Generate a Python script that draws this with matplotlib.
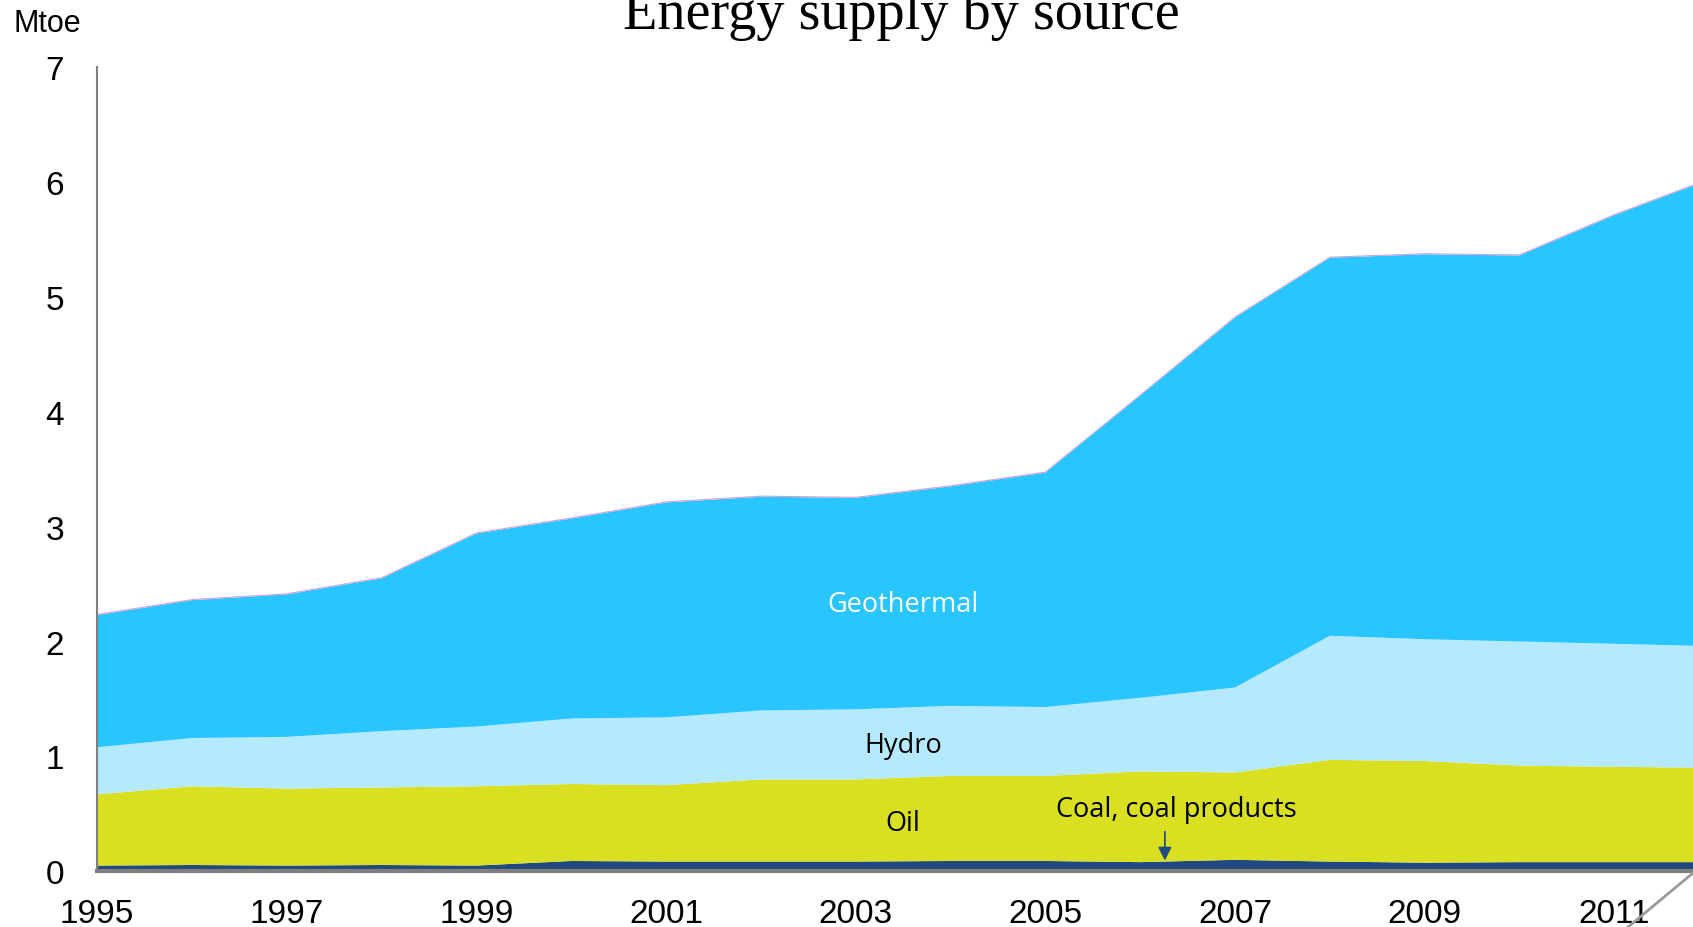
import matplotlib.pyplot as plt
import matplotlib.lines as mlines

years = list(range(1995, 2013))

coal = [0.05, 0.055, 0.05, 0.055, 0.05, 0.09, 0.085, 0.085, 0.085, 0.09, 0.09, 0.08, 0.10, 0.085, 0.075, 0.08, 0.08, 0.08]
oil = [0.62, 0.685, 0.67, 0.675, 0.69, 0.67, 0.665, 0.715, 0.715, 0.74, 0.74, 0.79, 0.76, 0.885, 0.885, 0.84, 0.83, 0.82]
hydro = [0.41, 0.42, 0.45, 0.49, 0.52, 0.57, 0.59, 0.60, 0.61, 0.61, 0.60, 0.64, 0.74, 1.08, 1.06, 1.08, 1.07, 1.06]
geothermal = [1.15, 1.20, 1.24, 1.33, 1.68, 1.74, 1.87, 1.86, 1.84, 1.91, 2.04, 2.63, 3.22, 3.29, 3.35, 3.36, 3.73, 4.06]
other = [0.01] * 18

colors = ['#204A7D', '#D9E021', '#B5EAFE', '#29C5FF', '#D8A0D0']
xtick_years = [1995, 1997, 1999, 2001, 2003, 2005, 2007, 2009, 2011]

fig = plt.figure(figsize=(16.93, 9.28), dpi=100)
ax = fig.add_axes([0.0574, 0.060, 1.0 - 0.0574, 0.8667])

ax.stackplot(years, coal, oil, hydro, geothermal, other, colors=colors, linewidth=0)

ax.set_xlim(1995, 2011.83)
ax.set_ylim(0, 7)

tick_font = ['Liberation Sans Narrow', 'Liberation Sans']
ax.set_xticks(xtick_years)
ax.set_xticklabels([str(y) for y in xtick_years], family=tick_font, fontsize=24)
ax.set_yticks(range(8))
ax.set_yticklabels([str(v) for v in range(8)], family=tick_font, fontsize=24)
ax.tick_params(axis='both', length=0)
ax.tick_params(axis='x', pad=19)
ax.tick_params(axis='y', pad=24)

for s in ['top', 'right']:
    ax.spines[s].set_visible(False)
ax.spines['left'].set_color('#7F7F7F')
ax.spines['left'].set_linewidth(1.5)
ax.spines['bottom'].set_color('#7F7F7F')
ax.spines['bottom'].set_linewidth(3)
ax.set_facecolor('none')

label_font = ['Open Sans', 'DejaVu Sans']
ax.text(2003.5, 2.33, 'Geothermal', color='white', fontsize=19.5, family=label_font, ha='center', va='center')
ax.text(2003.5, 1.10, 'Hydro', color='black', fontsize=19.5, family=label_font, ha='center', va='center')
ax.text(2003.5, 0.42, 'Oil', color='black', fontsize=19.5, family=label_font, ha='center', va='center')
ax.text(2006.38, 0.54, 'Coal, coal products', color='black', fontsize=19.5, family=label_font, ha='center', va='center')
ax.annotate('', xy=(2006.26, 0.07), xytext=(2006.26, 0.37),
            arrowprops=dict(arrowstyle='-|>', color='#204A7D', lw=1.2, mutation_scale=20))

fig.text(0.008, 1 - 24 / 928, 'Mtoe', fontsize=22, family=tick_font, va='center', ha='left')
fig.text(901 / 1693, 1 - 29 / 928, 'Energy supply by source', fontsize=40.5,
         family=['Liberation Serif', 'DejaVu Serif'], ha='center', va='baseline')

# page curl line at bottom right
fig.add_artist(mlines.Line2D([1.0, 1628 / 1693], [1 - 874 / 928, 0.0], transform=fig.transFigure,
                             color='#9A9A9A', lw=2))

fig.savefig('out.png', dpi=100)
